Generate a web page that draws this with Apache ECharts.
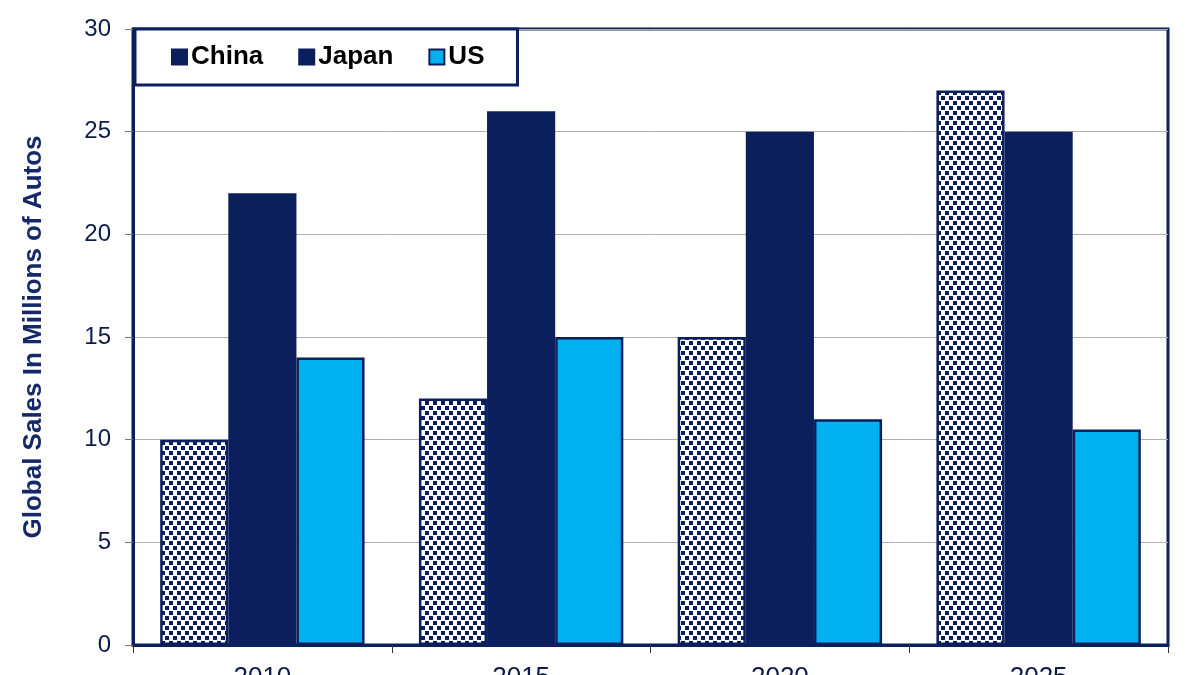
<!DOCTYPE html>
<html><head><meta charset="utf-8">
<script src="https://cdn.jsdelivr.net/npm/echarts@6/dist/echarts.min.js"></script>
<style>html,body{margin:0;padding:0;background:#fff;overflow:hidden}#c{width:1200px;height:675px}</style>
</head><body><div id="c"></div>
<script>
const categories = ['2010', '2015', '2020', '2025'];
const china = [10, 12, 15, 27];
const japan = [22, 26, 25, 25];
const us = [14, 15, 11, 10.5];
const yTicks = [0, 5, 10, 15, 20, 25, 30];

const NAVY = '#0b1f5c';
const BLUE = '#00b0f0';

function makePattern() {
  const c = document.createElement('canvas');
  c.width = 8; c.height = 10;
  const g = c.getContext('2d');
  g.fillStyle = '#ffffff'; g.fillRect(0, 0, 8, 10);
  g.fillStyle = NAVY;
  g.fillRect(1, 1, 4, 4);
  g.fillRect(5, 6, 4, 4);
  g.fillRect(-3, 6, 4, 4);
  return c;
}
const pattern = { image: makePattern(), repeat: 'repeat' };

const chart = echarts.init(document.getElementById('c'));
const font = 'Liberation Sans, Arial, sans-serif';
chart.setOption({
  animation: false,
  textStyle: { fontFamily: font },
  grid: { left: 133, right: 32, top: 29, bottom: 30, outerBoundsMode: 'none', containLabel: false,
          show: true, borderColor: NAVY, borderWidth: 3, backgroundColor: 'transparent' },
  legend: {
    left: 135, top: 29,
    backgroundColor: '#fff', borderColor: NAVY, borderWidth: 3,
    padding: [15, 33, 15, 36],
    itemWidth: 15, itemHeight: 15, itemGap: 35,
    textStyle: { fontSize: 26, fontWeight: 'bold', color: '#000', fontFamily: font, padding: [0, 0, 0, -1] },
    data: [
      { name: 'China', icon: 'rect', itemStyle: { color: NAVY } },
      { name: 'Japan', icon: 'rect' },
      { name: 'US', icon: 'rect' }
    ]
  },
  xAxis: {
    type: 'category', data: categories,
    axisLine: { lineStyle: { color: NAVY, width: 3 } },
    axisTick: { show: true, length: 8, lineStyle: { color: '#333', width: 1 } },
    axisLabel: { fontSize: 26, color: '#0d1a4a', margin: 20 }
  },
  yAxis: {
    type: 'value', min: 0, max: 30, interval: 5,
    name: 'Global Sales In Millions of Autos',
    nameLocation: 'middle', nameGap: 86,
    nameTextStyle: { fontSize: 26, fontWeight: 'bold', color: '#14286a' },
    axisLine: { show: true, lineStyle: { color: NAVY, width: 3 } },
    axisTick: { show: true, length: 8, lineStyle: { color: '#777', width: 1 } },
    axisLabel: { fontSize: 24, color: '#0d1a4a', margin: 22 },
    splitLine: { lineStyle: { color: '#b0b0b0', width: 1 } }
  },
  series: [
    { name: 'China', type: 'bar', data: china, barGap: '0%', barCategoryGap: '21%',
      itemStyle: { color: pattern, borderColor: NAVY, borderWidth: 2.5 } },
    { name: 'Japan', type: 'bar', data: japan, barGap: '0%', barCategoryGap: '21%',
      itemStyle: { color: NAVY, borderColor: NAVY, borderWidth: 2.5 } },
    { name: 'US', type: 'bar', data: us, barGap: '0%', barCategoryGap: '21%',
      itemStyle: { color: BLUE, borderColor: NAVY, borderWidth: 2.5 } }
  ]
});
</script></body></html>
